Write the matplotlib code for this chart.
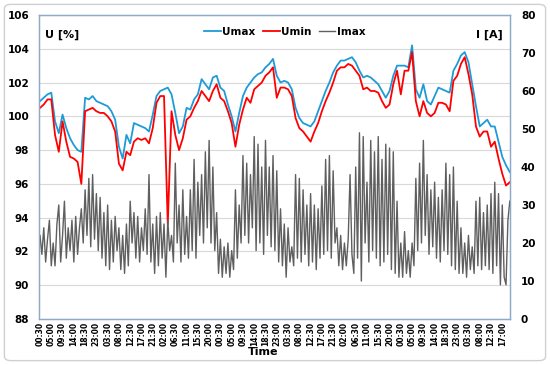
"""plot — Tension (Umax / Umin) et courant (Imax) sur une semaine de mesures."""

from __future__ import annotations

import matplotlib
matplotlib.use("Agg")  # backend non-interactif
import matplotlib.pyplot as plt
import numpy as np
from matplotlib.patches import FancyBboxPatch

OUT_PATH = "out.png"

# Palette (style Excel)
BLUE = "#1E9BD7"
RED = "#FF0000"
GREY = "#5F5F5F"
GRID = "#D9D9D9"
SPINE = "#8EAACB"
FRAME = "#D0D0D0"

STEP_U = 1.5    # heures entre deux points U
STEP_I = 0.75   # heures entre deux points I
STEP_LABEL = 4.5  # heures entre deux etiquettes

# ─── Donnees ───────────────────────────────────────────────────────────
TIME_LABELS = [
    "00:30", "05:00", "09:30", "14:00", "18:30", "23:00", "03:30", "08:00",
    "12:30", "17:00", "21:30", "02:00", "06:30", "11:00", "15:30", "20:00",
    "00:30", "05:00", "09:30", "14:00", "18:30", "23:00", "03:30", "08:00",
    "12:30", "17:00", "21:30", "02:00", "06:30", "11:00", "15:30", "20:00",
    "00:30", "05:00", "09:30", "14:00", "18:30", "23:00", "03:30", "08:00",
    "12:30", "17:00",
]

U_MAX = [
    100.9, 101.1, 101.3, 101.4, 99.7, 99.0, 100.1, 99.3, 98.7, 98.3, 98.0, 97.9,
    101.1, 101.0, 101.2, 100.9, 100.8, 100.7, 100.6, 100.3, 99.8, 98.2, 97.5, 98.9,
    98.4, 99.6, 99.5, 99.4, 99.3, 99.1, 100.1, 101.2, 101.5, 101.6, 101.7, 101.3,
    100.2, 99.0, 99.4, 100.5, 100.4, 101.0, 101.3, 102.2, 101.9, 101.6, 102.3, 102.4,
    101.7, 101.5, 100.7, 100.0, 99.1, 100.2, 101.2, 101.7, 102.0, 102.3, 102.5, 102.6,
    102.9, 103.1, 103.4, 102.4, 102.0, 102.1, 102.0, 101.6, 100.5, 99.9, 99.6, 99.5,
    99.4, 99.7, 100.3, 100.9, 101.5, 102.0, 102.6, 103.0, 103.3, 103.3, 103.4, 103.5,
    103.2, 102.7, 102.3, 102.4, 102.3, 102.1, 101.9, 101.5, 101.1, 101.5, 102.4, 103.0,
    103.0, 103.0, 102.9, 104.2, 101.6, 101.1, 101.9, 100.9, 100.7, 101.2, 101.7, 101.6,
    101.5, 101.4, 102.7, 103.1, 103.6, 103.8, 103.2, 101.9, 100.6, 99.4, 99.6, 99.8,
    99.4, 99.4, 98.5, 97.6, 97.1, 96.7,
]

U_MIN = [
    100.5, 100.7, 101.0, 101.0, 98.9, 97.9, 99.7, 98.5, 97.6, 97.5, 97.3, 96.0,
    100.3, 100.4, 100.5, 100.3, 100.2, 100.2, 100.0, 99.7, 99.1, 97.2, 96.8, 97.9,
    97.7, 98.5, 98.7, 98.6, 98.7, 98.4, 99.3, 100.8, 101.2, 101.2, 93.6, 100.3,
    98.9, 98.0, 98.7, 99.8, 100.0, 100.5, 100.9, 101.5, 101.2, 100.9, 101.5, 101.9,
    101.1, 100.9, 100.3, 99.6, 98.2, 99.5, 100.4, 101.1, 100.8, 101.6, 101.8, 102.0,
    102.4, 102.6, 102.9, 101.1, 101.7, 101.7, 101.6, 101.2, 99.9, 99.3, 99.1, 98.8,
    98.5, 99.1, 99.6, 100.3, 100.9, 101.4, 102.0, 102.7, 102.9, 102.9, 103.1, 103.0,
    102.7, 102.4, 101.6, 101.7, 101.5, 101.5, 101.4, 100.9, 100.5, 100.7, 101.9, 102.7,
    101.3, 102.7, 102.7, 103.8, 100.9, 100.0, 100.9, 100.2, 100.0, 100.2, 100.8, 100.8,
    100.7, 100.3, 102.1, 102.4, 103.1, 103.5, 102.5, 101.3, 99.4, 98.8, 99.1, 99.1,
    98.2, 98.5, 97.5, 96.6, 95.9, 96.1,
]

I_MAX = [
    22, 17, 24, 15, 21, 26, 14, 20,
    14, 25, 30, 15, 22, 31, 16, 24,
    18, 26, 15, 27, 17, 24, 29, 20,
    34, 22, 37, 19, 38, 21, 33, 18,
    32, 16, 28, 14, 30, 13, 26, 15,
    27, 18, 24, 13, 22, 12, 25, 14,
    31, 20, 28, 16, 27, 15, 24, 18,
    29, 17, 38, 15, 25, 12, 27, 14,
    28, 16, 25, 11, 26, 18, 22, 15,
    41, 20, 30, 15, 34, 17, 27, 16,
    34, 18, 42, 16, 36, 22, 38, 20,
    44, 24, 47, 20, 40, 18, 28, 12,
    21, 11, 19, 12, 20, 11, 18, 13,
    34, 16, 30, 20, 43, 22, 41, 20,
    38, 24, 48, 18, 46, 20, 40, 17,
    47, 22, 40, 19, 43, 18, 39, 15,
    29, 14, 25, 11, 24, 15, 19, 14,
    38, 16, 37, 15, 34, 17, 30, 14,
    33, 15, 30, 13, 29, 16, 35, 17,
    42, 18, 43, 16, 39, 20, 24, 14,
    22, 13, 20, 14, 21, 38, 17, 12,
    40, 16, 49, 10, 48, 20, 36, 15,
    47, 18, 44, 16, 48, 14, 42, 15,
    46, 17, 45, 13, 44, 12, 31, 11,
    20, 11, 23, 12, 18, 11, 20, 14,
    37, 18, 41, 20, 47, 22, 38, 17,
    34, 19, 36, 16, 32, 15, 34, 18,
    41, 17, 38, 14, 40, 13, 31, 12,
    24, 12, 20, 11, 22, 13, 19, 12,
    31, 14, 32, 13, 28, 14, 30, 13,
    33, 12, 36, 14, 33, 9, 30, 11,
    9, 26, 31,
]


def draw() -> None:
    plt.rcParams.update({
        "font.family": "DejaVu Sans",
        "font.weight": "bold",
        "figure.facecolor": "white",
        "axes.facecolor": "white",
        "savefig.facecolor": "white",
    })

    t_u = np.arange(len(U_MAX)) * STEP_U
    t_i = np.arange(len(I_MAX)) * STEP_I
    t_lab = np.arange(len(TIME_LABELS)) * STEP_LABEL

    fig = plt.figure(figsize=(5.5, 3.65), dpi=100)
    ax = fig.add_axes([0.0709, 0.126, 0.856, 0.833])
    ax2 = ax.twinx()

    # Cadre arrondi autour du graphique (style Excel)
    fig.add_artist(FancyBboxPatch(
        (0.008, 0.012), 0.984, 0.976,
        boxstyle="round,pad=0,rounding_size=0.012",
        transform=fig.transFigure, fill=False, edgecolor=FRAME, linewidth=1.0,
    ))

    # Courbes de tension (axe gauche)
    l_max, = ax.plot(t_u, U_MAX, color=BLUE, linewidth=1.3, label="Umax")
    l_min, = ax.plot(t_u, U_MIN, color=RED, linewidth=1.3, label="Umin")
    # Courant (axe droit)
    l_i, = ax2.plot(t_i, I_MAX, color=GREY, linewidth=1.0, label="Imax")

    ax.set_xlim(-0.4, 187.5)
    ax.set_ylim(88, 106)
    ax.set_yticks(np.arange(88, 107, 2))
    ax2.set_ylim(0, 80)
    ax2.set_yticks(np.arange(0, 81, 10))

    ax.set_xticks(t_lab)
    ax.set_xticklabels(TIME_LABELS, rotation=90, fontsize=5.5, fontweight="bold")
    ax.tick_params(axis="x", length=0, pad=2)
    ax.tick_params(axis="y", length=0, pad=7, labelsize=7.5)
    ax2.tick_params(axis="y", length=0, pad=8, labelsize=7.5)
    for lab in ax.get_yticklabels() + ax2.get_yticklabels():
        lab.set_fontweight("bold")

    ax.grid(axis="y", color=GRID, linewidth=0.8)
    ax.set_axisbelow(True)
    for a in (ax, ax2):
        for sp in a.spines.values():
            sp.set_color(SPINE)
            sp.set_linewidth(0.9)

    ax.text(0.012, 0.95, "U [%]", transform=ax.transAxes, fontsize=8,
            fontweight="bold", va="top", ha="left")
    ax.text(0.985, 0.95, "I [A]", transform=ax.transAxes, fontsize=8,
            fontweight="bold", va="top", ha="right")
    fig.text(0.478, 0.035, "Time", fontsize=8, fontweight="bold",
             ha="center", va="center")

    ax2.legend(
        [l_max, l_min, l_i], ["Umax", "Umin", "Imax"],
        loc="center", bbox_to_anchor=(0.518, 0.912), bbox_transform=fig.transFigure,
        ncol=3, frameon=False, handlelength=1.6, handletextpad=0.15,
        columnspacing=0.7, prop={"weight": "bold", "size": 7.5},
    )

    fig.savefig(OUT_PATH, dpi=100)
    plt.close(fig)


def main() -> None:
    draw()


if __name__ == "__main__":
    main()
